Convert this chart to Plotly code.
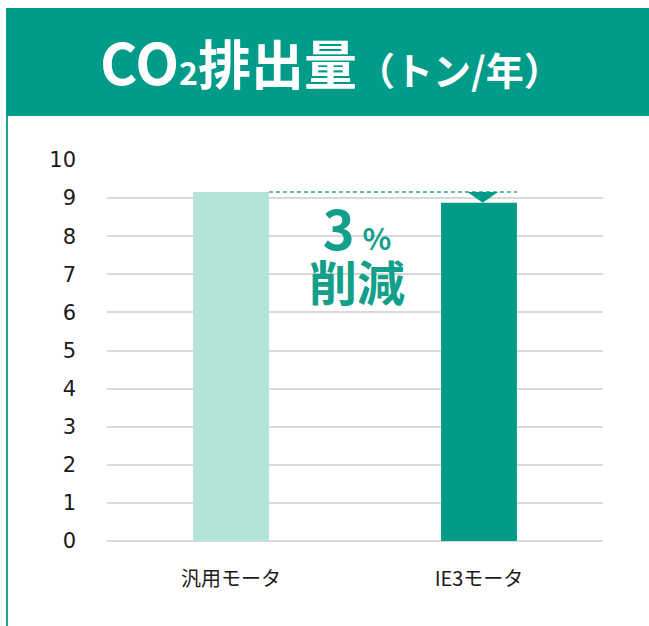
import plotly.graph_objects as go

# Data
categories = ["汎用モータ", "IE3モータ"]
emissions = [9.16, 8.88]          # CO2 emissions (t/year)
y_ticks = list(range(0, 11))
reduction_label = "3"
reduction_unit = "%"
reduction_word = "削減"

# Canvas / plot area (pixels)
W, H = 649, 626
PL, PR, PT, PB = 107, 603, 160, 541

TEAL = "#009B89"
LIGHT = "#B4E3D9"
GRID = "#D9D9D9"
TEXT_TEAL = "#13A08B"


def px(x):
    return (x - PL) / (PR - PL)


def py(y):
    return (PB - y) / (PB - PT)


BAR_W = 0.306
xs = list(range(len(categories)))

fig = go.Figure(
    go.Bar(
        x=xs,
        y=emissions,
        width=BAR_W,
        marker=dict(color=[LIGHT, TEAL], line=dict(width=0)),
        hoverinfo="skip",
    )
)

shapes = [
    # header band
    dict(type="rect", xref="paper", yref="paper",
         x0=px(6), x1=px(W + 2), y0=py(116), y1=py(8),
         fillcolor=TEAL, line=dict(width=0), layer="below"),
    # left border
    dict(type="rect", xref="paper", yref="paper",
         x0=px(6), x1=px(8), y0=py(H + 2), y1=py(116),
         fillcolor="#1FA891", line=dict(width=0), layer="below"),
    # dashed reference at the first bar's height
    dict(type="line", xref="x", yref="y",
         x0=xs[0] + BAR_W / 2, x1=xs[1] + BAR_W / 2,
         y0=emissions[0], y1=emissions[0],
         line=dict(color="#2AA893", width=1.6, dash="4px,3px")),
    # arrow head pointing down to the second bar
    dict(type="path", xref="x", yref="y",
         path=(f"M {xs[1] + 0.015 - 0.062},{emissions[0]} "
               f"L {xs[1] + 0.015 + 0.062},{emissions[0]} "
               f"L {xs[1] + 0.015},{emissions[1]} Z"),
         fillcolor=TEAL, line=dict(width=0)),
]

annotations = [
    dict(xref="paper", yref="paper", x=px(331), y=py(60),
         xanchor="center", yanchor="middle", showarrow=False,
         text=("<b><span style='font-size:57px'>CO</span>"
               "<span style='font-size:32px'>2</span>排出量"
               "<span style='font-size:38px'>（トン/年）</span></b>"),
         font=dict(family="Noto Sans CJK JP", size=53, color="white")),
    # reduction callout: the small base size sets the line spacing
    dict(xref="paper", yref="paper", x=px(357), y=py(251),
         xanchor="center", yanchor="middle", align="center",
         showarrow=False,
         text=(f"<b><span style='font-size:54px'>{reduction_label}</span>\u2009"
               f"<span style='font-size:30px'>{reduction_unit}</span><br>"
               f"<span style='font-size:48px'>{reduction_word}</span></b>"),
         font=dict(family="Noto Sans CJK JP", size=39, color=TEXT_TEAL)),
]

fig.update_layout(
    width=W, height=H,
    margin=dict(l=PL, r=W - PR, t=PT, b=H - PB, pad=0),
    paper_bgcolor="white", plot_bgcolor="white",
    showlegend=False,
    shapes=shapes,
    annotations=annotations,
    bargap=0.69,
)

fig.update_xaxes(
    range=[-0.5, 1.5],
    tickvals=xs, ticktext=categories,
    showgrid=False, zeroline=False, showline=False, ticks="",
    tickfont=dict(family="Noto Sans CJK JP", size=20, color="#1a1a1a"),
    ticklabelstandoff=24,
    fixedrange=True,
)

fig.update_yaxes(
    range=[0, 10],
    tickvals=y_ticks,
    showgrid=True, gridcolor=GRID, gridwidth=2,
    zeroline=True, zerolinecolor=GRID, zerolinewidth=2,
    showline=False, ticks="",
    tickfont=dict(family="DejaVu Sans", size=21, color="#1a1a1a"),
    ticklabelstandoff=30,
    fixedrange=True,
)

fig.write_html("out.html", config={"displayModeBar": False})
